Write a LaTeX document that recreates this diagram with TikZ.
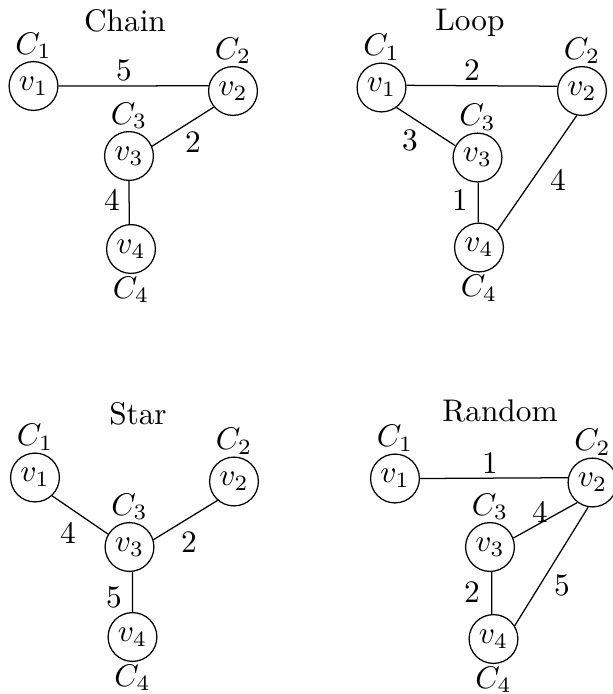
\documentclass[tikz,border=0pt]{standalone}
\begin{document}
\begin{tikzpicture}[x=0.3195pt,y=-0.3195pt,
  vtx/.style={draw,circle,minimum size=15.6pt,inner sep=0pt},
  cab/.style={inner sep=0.5pt},
  cbe/.style={inner sep=0.7pt},
  ttl/.style={anchor=base,inner sep=0pt},
  wt/.style={inner sep=0pt}]
\useasboundingbox (0,0) rectangle (613,694);
% Chain
\node[ttl] (tA) at (125,31) {Chain};
\node[vtx,label={[cab]above:$C_1$}] (a1) at (33.5,86) {$v_1$};
\node[vtx,label={[cab]above:$C_2$}] (a2) at (233,91) {$v_2$};
\node[vtx,label={[cab]above:$C_3$}] (a3) at (129,156) {$v_3$};
\node[vtx,label={[cbe]below:$C_4$}] (a4) at (131,249) {$v_4$};
\draw (a1.0) -- (a2.168) node[wt,at={(124,70)}] {5};
\draw (a2.220) -- (a3.23) node[wt,at={(193,142)}] {2};
\draw (a3.270) -- (a4.94) node[wt,at={(112,200)}] {4};
% Loop
\node[ttl] (tB) at (470,30) {Loop};
\node[vtx,label={[cab]above:$C_1$}] (b1) at (381.5,87.5) {$v_1$};
\node[vtx,label={[cab]above:$C_2$}] (b2) at (582,91) {$v_2$};
\node[vtx,label={[cab]above:$C_3$}] (b3) at (477.5,157.5) {$v_3$};
\node[vtx,label={[cbe]below:$C_4$}] (b4) at (479,247.5) {$v_4$};
\draw (b1.5) -- (b2.169) node[wt,at={(472,70)}] {2};
\draw (b1.307) -- (b3.152) node[wt,at={(410,140)}] {3};
\draw (b3.272) -- (b4.92) node[wt,at={(460,200)}] {1};
\draw (b2.258) -- (b4.43) node[wt,at={(558,180)}] {4};
% Star
\node[ttl] (tC) at (138,424) {Star};
\node[vtx,label={[cab]above:$C_1$}] (c1) at (35,477.5) {$v_1$};
\node[vtx,label={[cab]above:$C_2$}] (c2) at (234,481.5) {$v_2$};
\node[vtx,label={[cab]above:$C_3$}] (c3) at (129.5,547) {$v_3$};
\node[vtx,label={[cbe]below:$C_4$}] (c4) at (132.5,637) {$v_4$};
\draw (c1.313) -- (c3.149) node[wt,at={(68,533)}] {4};
\draw (c2.229) -- (c3.17) node[wt,at={(189,542)}] {2};
\draw (c3.277) -- (c4.90) node[wt,at={(114,597)}] {5};
% Random
\node[ttl] (tD) at (500,421) {Random};
\node[vtx,label={[cab]above:$C_1$}] (d1) at (395,478.5) {$v_1$};
\node[vtx,label={[cab]above:$C_2$}] (d2) at (592.5,482.5) {$v_2$};
\node[vtx,label={[cab]above:$C_3$}] (d3) at (490,547) {$v_3$};
\node[vtx,label={[cbe]below:$C_4$}] (d4) at (493.5,639) {$v_4$};
\draw (d1.0) -- (d2.169) node[wt,at={(490,463)}] {1};
\draw (d3.21) -- (d2.233) node[wt,at={(540,512)}] {4};
\draw (d2.260) -- (d4.32) node[wt,at={(562,585)}] {5};
\draw (d3.274) -- (d4.94) node[wt,at={(472,592)}] {2};
\end{tikzpicture}
\end{document}
